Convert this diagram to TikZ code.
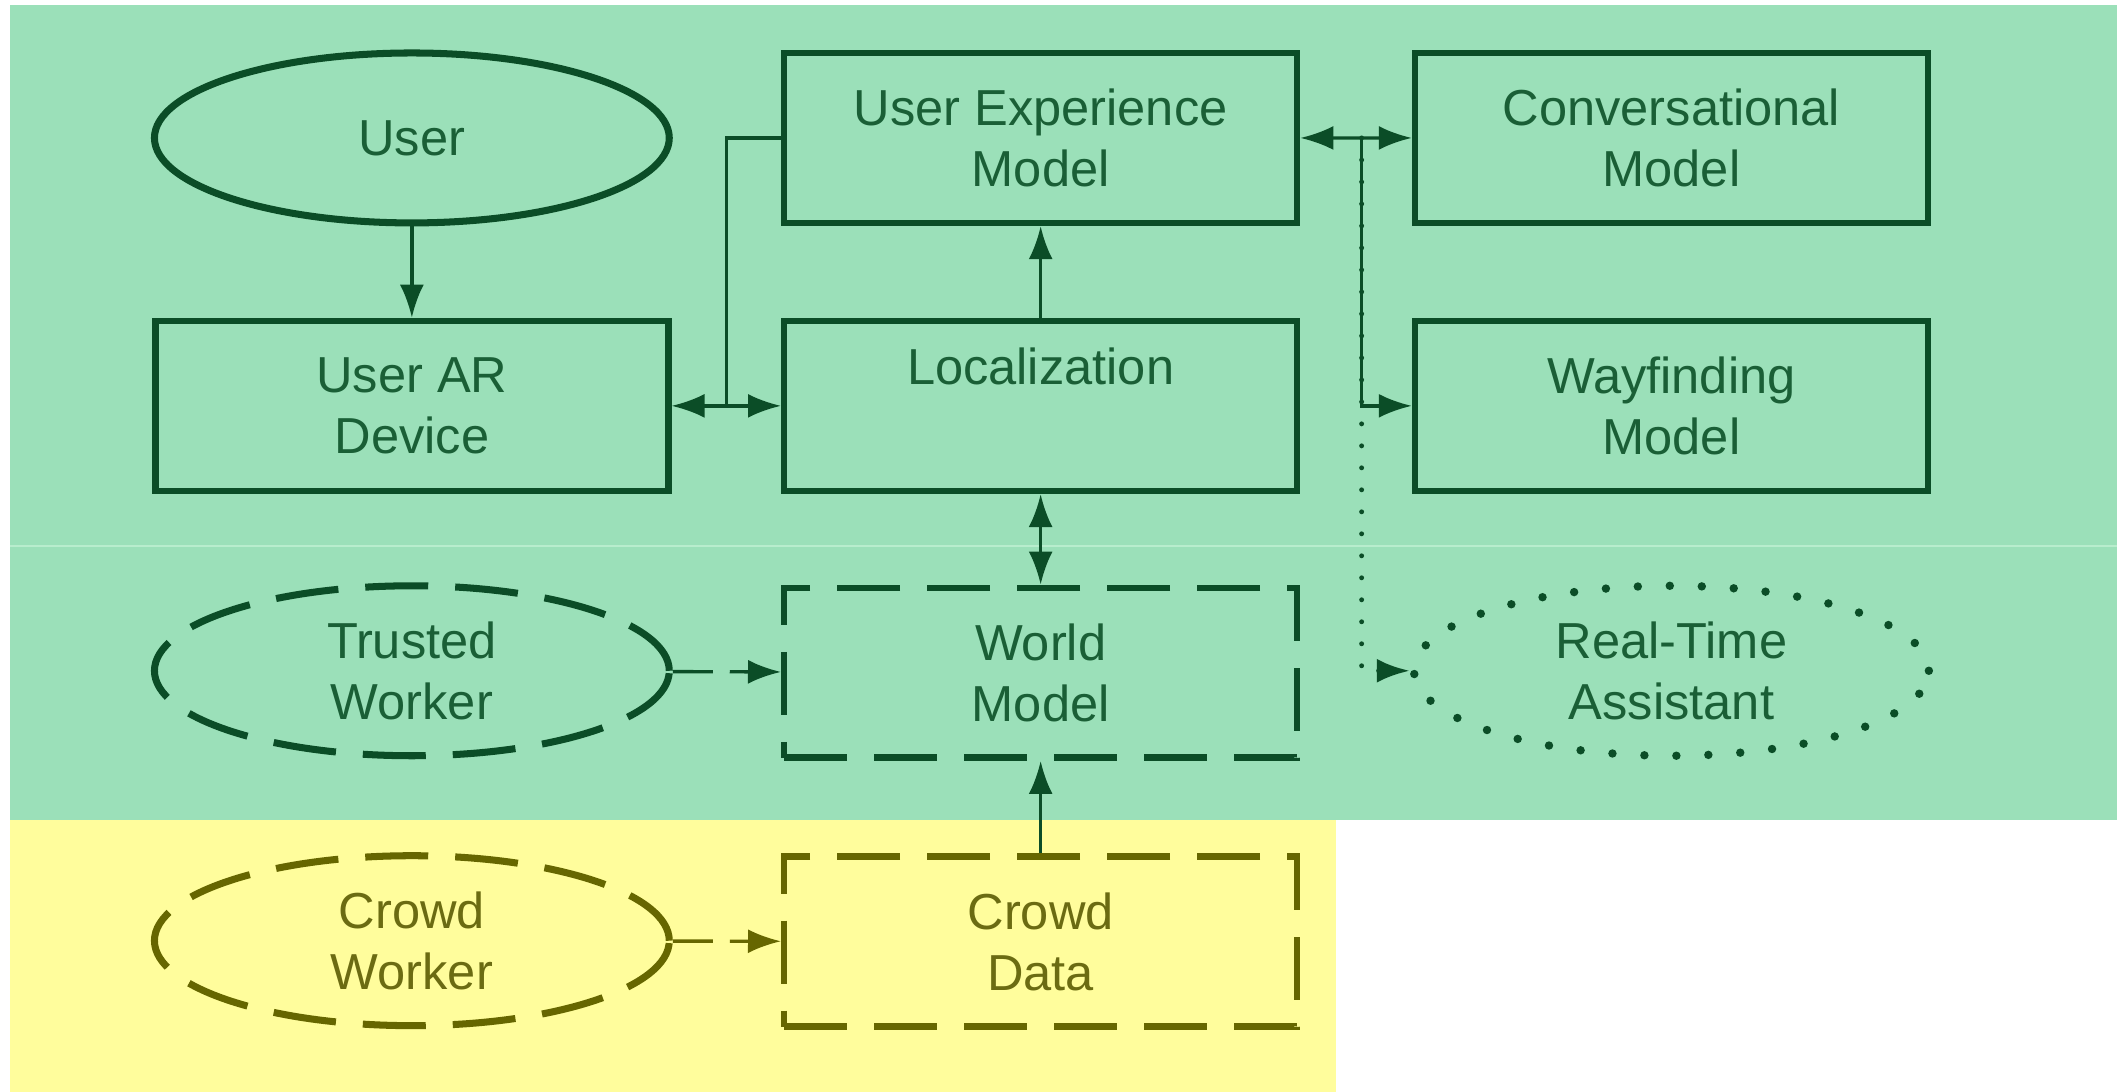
\documentclass[tikz,border=0pt]{standalone}
\usepackage{fontspec}
\setmainfont{Liberation Sans}
\usetikzlibrary{calc,positioning,shapes,arrows.meta}
\definecolor{bggreen}{HTML}{9BE0B9}
\definecolor{bgyellow}{HTML}{FFFD9C}
\definecolor{seam}{HTML}{B8EDCD}
\definecolor{darkgreen}{HTML}{0B4D27}
\definecolor{textgreen}{HTML}{1A5F36}
\definecolor{olivedark}{HTML}{666600}
\definecolor{olivetext}{HTML}{6B6B12}
\tikzstyle{line} = [draw, line width=0.95pt, -{Latex[length=3.3mm,width=2.4mm]}]
\tikzstyle{dline} = [line, {Latex[length=3.3mm,width=2.4mm]}-{Latex[length=3.3mm,width=2.4mm]}]
\tikzstyle{block} = [rectangle, draw, line width=1.85pt, minimum width=5.13cm, minimum height=1.7cm, inner sep=0pt]
\tikzstyle{oval} = [ellipse, draw, line width=2pt, minimum width=5.15cm, minimum height=1.7cm, inner sep=0pt]
\tikzstyle{dashedge} = [dash pattern=on 0.63cm off 0.27cm]
\tikzstyle{dotedge} = [line width=2.4pt, line cap=round, dash pattern=on 0pt off 0.32cm]
\tikzstyle{dashline} = [dash pattern=on 0.4cm off 0.17cm]
\tikzstyle{dotline} = [line width=1.4pt, line cap=round, dash pattern=on 0pt off 0.22cm]

\begin{document}
\begin{tikzpicture}[node distance=2.68cm, align=center, color=darkgreen, text=textgreen, font=\fontsize{14.4}{17.3}\selectfont]

\fill [bggreen] (0.10,-0.05) rectangle (21.18,-8.20);
\fill [bgyellow] (0.10,-8.20) rectangle (13.36,-10.92);
\draw [seam, line width=0.4pt] (0.10,-5.46) -- (21.18,-5.46);
\useasboundingbox (0,0) rectangle (21.18,-10.92);

\node (user) [oval] at (4.12,-1.38) {User};
\node (ux) [block, right of=user, node distance=6.29cm] {User Experience\\Model};
\node (conv) [block, right of=ux, node distance=6.31cm] {Conversational\\Model};

\node (ardev) [block, below of=user] {User AR\\Device};
\node (loc) [block, below of=ux] {Localization\\\strut};
\node (wayf) [block, below of=conv] {Wayfinding\\Model};

\node (trusted) [oval, dashedge, below of=ardev, node distance=2.65cm] {Trusted\\Worker};
\node (world) [block, dashedge, below of=loc, node distance=2.67cm] {World\\Model};
\node (rta) [oval, dotedge, below of=wayf, node distance=2.65cm] {Real-Time\\Assistant};

\node (crowdw) [oval, dashedge, olivedark, text=olivetext, below of=trusted, node distance=2.70cm] {Crowd\\Worker};
\node (crowdd) [block, dashedge, olivedark, text=olivetext, below of=world, node distance=2.69cm] {Crowd\\Data};

% user side
\path [line] (user) -- (ardev);
\coordinate (jl) at ($(ardev.east)!0.5!(loc.west)$);
\draw [line width=0.95pt] (ux.west) -| (jl);
\path [line] (jl) -- (ardev);
\path [line] (jl) -- (loc);
\path [line] (loc) -- (ux);
\path [dline] (loc) -- (world);

% models on the right
\coordinate (jr) at ($(ux.east)!0.55!(conv.west)$);
\path [line] (jr) -- (ux);
\path [line] (jr) -- (conv);
\path [line] (jr) |- (wayf);
\path [line, dotline] (jr) |- (rta);

% workers and data
\path [line, dashline] (trusted) -- (world);
\path [line, dashline, olivedark] (crowdw) -- (crowdd);
\path [line] (crowdd) -- (world);

\end{tikzpicture}
\end{document}
